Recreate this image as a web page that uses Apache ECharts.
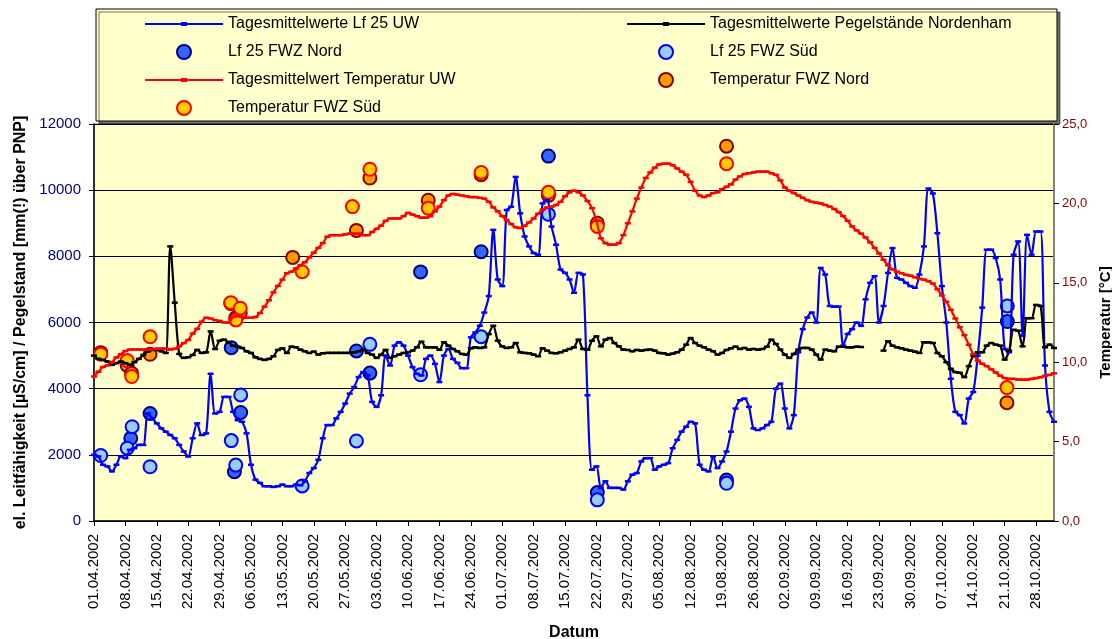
<!DOCTYPE html>
<html>
<head>
<meta charset="utf-8">
<script src="https://cdn.jsdelivr.net/npm/echarts@6/dist/echarts.min.js"></script>
<style>
  html, body { margin: 0; padding: 0; background: #fff; }
  #chart { width: 1112px; height: 639px; }
</style>
</head>
<body>
<div id="chart"></div>
<script>
// weekly tick labels, one per 7 days starting 01.04.2002
const tickLabels = [
  '01.04.2002', '08.04.2002', '15.04.2002', '22.04.2002', '29.04.2002', '06.05.2002',
  '13.05.2002', '20.05.2002', '27.05.2002', '03.06.2002', '10.06.2002', '17.06.2002',
  '24.06.2002', '01.07.2002', '08.07.2002', '15.07.2002', '22.07.2002', '29.07.2002',
  '05.08.2002', '12.08.2002', '19.08.2002', '26.08.2002', '02.09.2002', '09.09.2002',
  '16.09.2002', '23.09.2002', '30.09.2002', '07.10.2002', '14.10.2002', '21.10.2002',
  '28.10.2002'
];

// daily values 01.04.2002 .. 01.11.2002 (index = day)
const lfUW = [
  2000, 1950, 1700, 1650, 1500, 1700, 1950, 1900, 2150, 2200,
  2300, 2300, 3250, 3100, 2950, 2800, 2700, 2600, 2500, 2300,
  2100, 1950, 2500, 2950, 2600, 2650, 4450, 3250, 3300, 3750,
  3750, 3300, 3050, 3000, 2650, 1700, 1250, 1150, 1050, 1050,
  1030, 1050, 1100, 1050, 1050, 1100, 1080, 1200, 1450, 1600,
  1850, 2500, 2900, 2900, 3100, 3300, 3550, 3850, 4050, 4350,
  4500, 4400, 3600, 3450, 3800, 5000, 4700, 5300, 5400, 5300,
  5000, 4650, 4450, 4400, 4900, 5000, 4750, 4200, 5000, 5200,
  4900, 4780, 4620, 4620, 5550, 5700, 5900, 6300, 6800, 8800,
  7300, 7100, 9400, 9500, 10400, 9300, 8600, 8300, 8100, 8050,
  9600, 9700, 8900, 8350, 7600, 7500, 7300, 6900, 7500, 7450,
  3800, 1550, 1650, 1000, 1200, 1000, 1000, 1000, 950, 1200,
  1400, 1450, 1800, 1900, 1900, 1550, 1650, 1700, 1750, 2200,
  2450, 2700, 2850, 3000, 2950, 1700, 1550, 1500, 1950, 1600,
  1800, 2100, 2700, 3400, 3650, 3700, 3450, 2800, 2750, 2800,
  2900, 3000, 4000, 4150, 3400, 2800, 3200, 5100, 5800, 6150,
  6300, 6000, 7650, 7450, 6500, 6480, 6480, 5300, 5650, 5800,
  6000, 5900, 6700, 7200, 7400, 6000, 6500, 7500, 8250, 7350,
  7300, 7200, 7100, 7050, 7450, 8300, 10050, 9900, 8700, 7100,
  6000, 4300, 3300, 3200, 2950, 3700, 3900, 5000, 6450, 8200,
  8200, 7950, 7300, 5200, 5100, 8050, 8450, 5600, 8650, 8050,
  8750, 8750, 4700, 3300, 3000
];

const pegel = [
  5000, 4900, 4870, 4820, 4720, 4770, 4820, 4770, 4720, 4800,
  4900, 5020, 5120, 5170, 5170, 5130, 5080, 8300, 6600, 5050,
  4930, 4950, 5020, 5170, 5080, 5100, 5730, 5200, 5450, 5480,
  5400, 5300, 5270, 5230, 5130, 5080, 4950, 4900, 4870, 4900,
  4980, 5170, 5220, 5080, 5270, 5250, 5180, 5130, 5080, 5120,
  5030, 5070, 5080, 5080, 5080, 5080, 5080, 5080, 5100, 5130,
  5180, 5080, 5030, 4930, 5030, 5170, 4930, 4980, 5030, 5080,
  5100, 5150, 5250, 5420, 5250, 5250, 5250, 5175, 5400, 5300,
  5200, 5130, 5050, 5030, 5220, 5250, 5230, 5250, 5650, 5900,
  5450, 5280, 5230, 5250, 5380, 5100, 5080, 5070, 5030, 4980,
  5220, 5150, 5080, 5070, 5100, 5150, 5200, 5250, 5480, 5200,
  5180, 5450, 5580, 5280, 5480, 5530, 5380, 5280, 5180, 5170,
  5130, 5170, 5150, 5170, 5180, 5150, 5080, 5070, 5030, 5060,
  5100, 5180, 5330, 5530, 5380, 5300, 5250, 5180, 5130, 5030,
  5080, 5170, 5220, 5270, 5200, 5230, 5180, 5200, 5180, 5200,
  5270, 5480, 5350, 5180, 5030, 4930, 5050, 5180, 5230, 5230,
  5180, 5030, 4880, 5180, 5150, 5130, 5270, 5270, 5250, 5250,
  5270, 5260, null, null, null, null, 5150, 5430, 5300, 5250,
  5220, 5180, 5150, 5120, 5080, 5400, 5400, 5380, 5080, 4980,
  4800, 4600, 4500, 4480, 4350, 4680, 5000, 5100, 5100, 5300,
  5380, 5330, 5300, 4880, 5150, 5780, 5750, 5280, 6130, 6130,
  6530, 6500, 5250, 5330, 5230
];

const tempUW = [
  9.1, 9.4, 9.7, 9.8, 10.0, 10.3, 10.5, 10.7, 10.8, 10.8,
  10.8, 10.8, 10.8, 10.8, 10.85, 10.85, 10.85, 10.8, 10.85, 11.0,
  11.2, 11.4, 11.8, 12.1, 12.55, 12.8, 12.75, 12.65, 12.6, 12.5,
  12.5, 12.85, 12.9, 12.85, 12.8, 12.8, 12.85, 13.1, 13.5, 13.9,
  14.4, 14.8, 15.2, 15.6, 15.7, 15.9, 16.1, 16.3, 16.6, 16.9,
  17.2, 17.5, 17.9, 18.0, 18.0, 18.0, 18.05, 18.1, 18.1, 18.1,
  18.0, 18.0, 18.2, 18.4, 18.6, 18.9, 19.05, 19.05, 19.05, 19.2,
  19.4, 19.3, 19.2, 19.1, 19.1, 19.2, 19.5, 19.8, 20.2, 20.5,
  20.6, 20.55, 20.5, 20.45, 20.4, 20.4, 20.35, 20.3, 20.1, 19.75,
  19.5, 19.2, 18.95, 18.7, 18.5, 18.45, 18.6, 18.8, 19.05, 19.35,
  19.6, 19.75, 19.8, 19.9, 20.1, 20.45, 20.7, 20.8, 20.7, 20.5,
  20.15, 19.7, 18.9, 17.8, 17.5, 17.4, 17.4, 17.5, 18.0, 18.75,
  19.5, 20.3, 21.0, 21.6, 21.95, 22.25, 22.45, 22.5, 22.5, 22.4,
  22.2, 22.0, 21.8, 21.35, 20.8, 20.5, 20.4, 20.5, 20.65, 20.7,
  20.9, 21.05, 21.2, 21.5, 21.7, 21.85, 21.9, 21.95, 22.0, 22.0,
  22.0, 21.9, 21.8, 21.45, 21.0, 20.8, 20.65, 20.5, 20.35, 20.2,
  20.1, 20.05, 20.0, 19.9, 19.8, 19.65, 19.45, 19.2, 18.9, 18.55,
  18.3, 18.1, 17.85, 17.55, 17.2, 16.85, 16.45, 16.1, 15.85, 15.7,
  15.6, 15.5, 15.45, 15.35, 15.25, 15.2, 15.1, 14.95, 14.6, 14.2,
  13.8, 13.3, 12.75, 12.2, 11.7, 11.1, 10.5, 10.1, 9.9, 9.75,
  9.55, 9.35, 9.15, 9.0, 8.95, 8.95, 8.9, 8.9, 8.9, 8.95,
  9.0, 9.05, 9.15, 9.2, 9.3
];

// spot measurements (day offset from 01.04.2002, value)
const lfNordDay = [8.2, 12.5, 30.6, 31.3, 32.7, 58.5, 61.5, 72.8, 86.3, 101.3, 112.2, 141, 203.6];
const lfNord = [2500, 3250, 5240, 1490, 3280, 5140, 4470, 7530, 8140, 11030, 860, 1240, 6030];
const lfSuedDay = [1.5, 7.4, 8.5, 12.5, 30.6, 31.6, 32.7, 46.4, 58.5, 61.5, 72.8, 86.3, 101.3, 112.2, 141, 203.6];
const lfSued = [1980, 2200, 2850, 1640, 2430, 1690, 3810, 1060, 2420, 5340, 4420, 5570, 9270, 640, 1140, 6500];
const tempNordDay = [1.5, 7.4, 8.4, 12.5, 30.5, 31.6, 32.6, 44.3, 58.5, 61.5, 74.5, 86.3, 101.3, 112.2, 141, 203.5];
const tempNord = [10.6, 9.8, 9.3, 10.5, 13.7, 12.8, 13.1, 16.6, 18.3, 21.6, 20.2, 21.8, 20.5, 18.75, 23.6, 7.45];
const tempSuedDay = [1.5, 7.4, 8.4, 12.5, 30.5, 31.6, 32.6, 46.4, 57.6, 61.5, 74.5, 86.3, 101.3, 112.2, 141, 203.5];
const tempSued = [10.5, 10.1, 9.1, 11.6, 13.75, 12.66, 13.4, 15.7, 19.8, 22.15, 19.7, 21.95, 20.7, 18.55, 22.5, 8.4];

const font = 'Liberation Sans';
const chart = echarts.init(document.getElementById('chart'));

const daily = arr => arr.map((v, i) => [i, v]);
const spots = (days, vals) => days.map((d, i) => [d, vals[i]]);

function lineSeries(name, data, color, yAxisIndex) {
  return {
    name, type: 'line', yAxisIndex, data: daily(data),
    smooth: 0.3, showAllSymbol: true, connectNulls: false,
    symbol: 'rect', symbolSize: [6, 2.5],
    lineStyle: { color, width: 2.2 },
    itemStyle: { color }
  };
}

function dotSeries(name, data, fill, border, yAxisIndex) {
  return {
    name, type: 'scatter', yAxisIndex, data,
    symbol: 'circle', symbolSize: 13,
    itemStyle: { color: fill, borderColor: border, borderWidth: 2, opacity: 1 }
  };
}

// legend icon for the daily lines: thin line with a small dash marker in the middle
const lineIcon = 'path://M0,0M78,14M0,6h78v2h-78zM36,5h6v4h-6z';
const lineItem = name => ({ name, icon: lineIcon, itemStyle: { borderWidth: 0 } });
const legendText = { fontFamily: font, fontSize: 16, color: '#000' };

chart.setOption({
  animation: false,
  backgroundColor: '#fff',
  graphic: [{
    type: 'rect', z: 0,
    shape: { x: 96, y: 9, width: 961, height: 112 },
    style: { fill: '#FFFFCC', stroke: '#000', lineWidth: 1,
             shadowColor: 'rgba(0,0,0,0.55)', shadowOffsetX: 3, shadowOffsetY: 3 }
  }],
  legend: [{
    left: 145, top: 16, padding: 0, orient: 'vertical', selectedMode: false,
    itemWidth: 78, itemHeight: 14, itemGap: 12, textStyle: legendText,
    data: [lineItem('Tagesmittelwerte Lf 25 UW'), 'Lf 25 FWZ Nord',
           lineItem('Tagesmittelwert Temperatur UW'), 'Temperatur FWZ Süd']
  }, {
    left: 627, top: 16, padding: 0, orient: 'vertical', selectedMode: false,
    itemWidth: 78, itemHeight: 14, itemGap: 12, textStyle: legendText,
    data: [lineItem('Tagesmittelwerte Pegelstände Nordenham'), 'Lf 25 FWZ Süd', 'Temperatur FWZ Nord']
  }],
  grid: {
    left: 94, right: 58, top: 124, bottom: 118,
    containLabel: false, outerBoundsMode: 'none',
    show: true, backgroundColor: '#FFFFCC', borderColor: '#808080', borderWidth: 1
  },
  xAxis: {
    type: 'value', min: 0, max: 214, interval: 7,
    name: 'Datum', nameLocation: 'middle', nameGap: 104,
    nameTextStyle: { fontFamily: font, fontSize: 16, fontWeight: 'bold', color: '#000' },
    axisLine: { lineStyle: { color: '#000', width: 1.5 } },
    axisTick: { length: 5, lineStyle: { color: '#000' } },
    splitLine: { show: false },
    axisLabel: {
      rotate: 90, margin: 13, fontFamily: font, fontSize: 15, color: '#000',
      showMaxLabel: false,
      formatter: v => (v % 7 === 0 && tickLabels[v / 7]) ? tickLabels[v / 7] : ''
    }
  },
  yAxis: [{
    type: 'value', min: 0, max: 12000, interval: 2000,
    name: 'el. Leitfähigkeit [µS/cm] / Pegelstand [mm(!) über PNP]',
    nameLocation: 'middle', nameGap: 62, nameRotate: 90,
    nameTextStyle: { fontFamily: font, fontSize: 16, fontWeight: 'bold', color: '#000' },
    axisLine: { show: true, lineStyle: { color: '#000', width: 1.5 } },
    axisTick: { show: true, length: 5, lineStyle: { color: '#000' } },
    splitLine: { show: true, lineStyle: { color: '#000', width: 1 } },
    axisLabel: { margin: 13, fontFamily: font, fontSize: 15, color: '#000080', formatter: v => String(v) }
  }, {
    type: 'value', min: 0, max: 25, interval: 5, position: 'right',
    name: 'Temperatur [°C]',
    nameLocation: 'middle', nameGap: 42, nameRotate: 90,
    nameTextStyle: { fontFamily: font, fontSize: 15, fontWeight: 'bold', color: '#000' },
    axisLine: { show: true, lineStyle: { color: '#808080', width: 2 } },
    axisTick: { show: true, length: 5, lineStyle: { color: '#000' } },
    splitLine: { show: false },
    axisLabel: {
      margin: 8, fontFamily: font, fontSize: 13, color: '#800000',
      formatter: v => v.toFixed(1).replace('.', ',')
    }
  }],
  series: [
    lineSeries('Tagesmittelwerte Lf 25 UW', lfUW, '#0000FF', 0),
    lineSeries('Tagesmittelwerte Pegelstände Nordenham', pegel, '#000000', 0),
    dotSeries('Lf 25 FWZ Nord', spots(lfNordDay, lfNord), '#3366FF', '#000080', 0),
    dotSeries('Lf 25 FWZ Süd', spots(lfSuedDay, lfSued), '#99CCFF', '#0000FF', 0),
    lineSeries('Tagesmittelwert Temperatur UW', tempUW, '#FF0000', 1),
    dotSeries('Temperatur FWZ Nord', spots(tempNordDay, tempNord), '#FF9900', '#800000', 1),
    dotSeries('Temperatur FWZ Süd', spots(tempSuedDay, tempSued), '#FFCC00', '#FF0000', 1)
  ]
});
</script>
</body>
</html>
